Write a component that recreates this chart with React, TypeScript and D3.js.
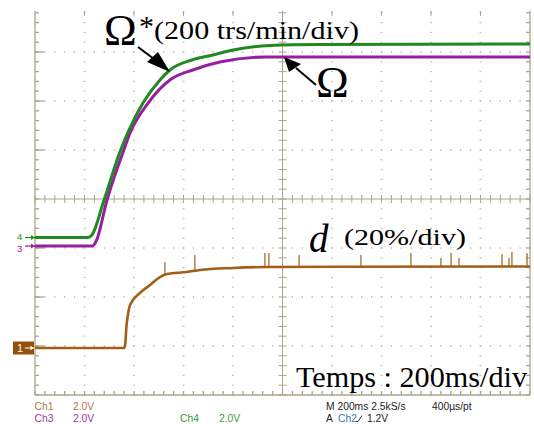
import React, { useEffect } from "react";
import * as d3 from "d3";

// ---- data (time in ms, 200 ms/div; values in screen divisions) ----
const greenT = [0, 214, 230, 279, 343, 376, 436, 505, 545, 634, 719, 800, 949, 1152, 2000];
const greenV = [-0.786, -0.786, -0.735, -0.02, 0.959, 1.367, 1.959, 2.429, 2.633, 2.837, 2.939, 3.041, 3.133, 3.153, 3.163];

const purpleT = [0, 232, 248, 291, 323, 356, 384, 457, 545, 638, 747, 937, 2000];
const purpleV = [-0.96, -0.96, -0.85, -0.02, 0.49, 0.959, 1.347, 1.959, 2.429, 2.633, 2.796, 2.898, 2.898];

const brownT = [0, 360, 364, 370, 376, 384, 424, 465, 505, 533, 614, 667, 800, 937, 2000];
const brownV = [-3.041, -3.041, -2.98, -2.571, -2.347, -2.163, -1.918, -1.755, -1.592, -1.531, -1.49, -1.449, -1.408, -1.388, -1.378];

const brownSpikeT = [525, 646, 929, 945, 1067, 1317, 1519, 1640, 1681, 1713, 1887, 1915, 1927, 1988];
const brownSpikeV = [-1.286, -1.143, -1.102, -1.102, -1.143, -1.143, -1.102, -1.204, -1.102, -1.204, -1.122, -1.204, -1.082, -1.102];

const markerLevels = { ch4: -0.786, ch3: -0.96, ch1: -3.041 };

const statusRow1 = [
  { text: "Ch1", x: 34.5, color: "#a87c4c" },
  { text: "2.0V", x: 73, color: "#a87c4c" },
  { text: "M 200ms 2.5kS/s", x: 326, color: "#222" },
  { text: "400µs/pt", x: 432, color: "#222" },
];
const statusRow2 = [
  { text: "Ch3", x: 34.5, color: "#9a3aa6" },
  { text: "2.0V", x: 73, color: "#9a3aa6" },
  { text: "Ch4", x: 180, color: "#3a9a3a" },
  { text: "2.0V", x: 219, color: "#3a9a3a" },
  { text: "A", x: 326, color: "#222" },
  { text: "Ch2", x: 338, color: "#3a78b8" },
  { text: "1.2V", x: 367, color: "#222" },
];

const GREEN = "#1f8a1f";
const PURPLE = "#951f9e";
const BROWN = "#a15f17";
const GRID = "#aaa58c";
const DOT = "#c9c5b2";

export default function App() {
  useEffect(() => {
    document.body.style.margin = "0";
  }, []);

  const x = d3.scaleLinear().domain([0, 2000]).range([35, 530]);
  const y = d3.scaleLinear().domain([-4, 4]).range([395, 3]);
  const topV = 3.84;
  const topY = y(topV);

  const line = (T: number[], V: number[]) =>
    d3
      .line<number>()
      .x((_, i) => x(T[i]))
      .y((_, i) => y(V[i]))
      .curve(d3.curveMonotoneX)(T.map((t) => t)) || "";

  const minorT = d3.range(0, 2000.1, 40);
  const minorV = d3.range(-4, topV, 0.2);
  const majorT = d3.range(200, 1900, 200).filter((t) => t !== 1000);
  const majorV = d3.range(-3, 3.1, 1).filter((v) => v !== 0);

  const brownAt = d3.scaleLinear().domain(brownT).range(brownV);

  const serif = "'Liberation Serif', 'Times New Roman', serif";
  const sans = "'Liberation Sans', Arial, sans-serif";

  return (
    <svg width={534} height={424} style={{ display: "block", background: "#fff" }}>
      <rect width={534} height={424} fill="#fff" />
      {/* dotted grid */}
      <g fill={DOT}>
        {majorT.map((t) =>
          minorV.map((v) => (
            <rect key={`vd${t}_${v}`} x={x(t) - 1} y={y(v) - 0.6} width={2} height={1.2} />
          ))
        )}
        {majorV.map((v) =>
          minorT.map((t) => (
            <rect key={`hd${t}_${v}`} x={x(t) - 0.6} y={y(v) - 1} width={1.2} height={2} />
          ))
        )}
      </g>
      {/* borders and centre cross */}
      <g stroke={GRID} strokeWidth={1.3} fill="none">
        <line x1={x(0)} y1={topY} x2={x(0)} y2={y(-4)} />
        <line x1={x(2000)} y1={topY} x2={x(2000)} y2={y(-4)} />
        <line x1={x(0)} y1={y(-4)} x2={x(2000)} y2={y(-4)} />
        <line x1={x(0)} y1={y(0)} x2={x(2000)} y2={y(0)} strokeWidth={1} />
        <line x1={x(1000)} y1={topY} x2={x(1000)} y2={y(-4)} strokeWidth={1} />
        {minorV.map((v) => (
          <g key={`tv${v}`}>
            <line x1={x(0)} y1={y(v)} x2={x(0) + 4} y2={y(v)} />
            <line x1={x(2000) - 4} y1={y(v)} x2={x(2000)} y2={y(v)} />
            <line x1={x(1000) - 4} y1={y(v)} x2={x(1000) + 4} y2={y(v)} strokeWidth={1} />
          </g>
        ))}
        {majorV.map((v) => (
          <line key={`mv${v}`} x1={x(0)} y1={y(v)} x2={x(0) + 9} y2={y(v)} />
        ))}
        {majorT.map((t) => (
          <line key={`mt${t}`} x1={x(t)} y1={topY} x2={x(t)} y2={topY + 5} strokeWidth={1} />
        ))}
        {minorT.map((t) => (
          <g key={`tt${t}`}>
            <line x1={x(t)} y1={y(-4)} x2={x(t)} y2={y(-4) - 4} />
            <line x1={x(t)} y1={y(0) - 4} x2={x(t)} y2={y(0) + 4} strokeWidth={1} />
          </g>
        ))}
      </g>

      {/* traces */}
      <path d={line(purpleT, purpleV)} stroke={PURPLE} strokeWidth={3} fill="none" />
      <path d={line(greenT, greenV)} stroke={GREEN} strokeWidth={3} fill="none" />
      <path d={line(brownT, brownV)} stroke={BROWN} strokeWidth={2.6} fill="none" />
      <g stroke={BROWN} strokeWidth={1.2}>
        {brownSpikeT.map((t, i) => (
          <line key={`sp${i}`} x1={x(t)} x2={x(t)} y1={y(brownAt(t))} y2={y(brownSpikeV[i])} />
        ))}
      </g>

      {/* channel markers */}
      <g fontFamily={sans} fontSize={9.5}>
        <text x={17} y={y(markerLevels.ch4) + 2} fill={GREEN}>4</text>
        <line x1={25} x2={35} y1={y(markerLevels.ch4)} y2={y(markerLevels.ch4)} stroke={GREEN} strokeWidth={1.2} />
        <path d={`M35,${y(markerLevels.ch4)} l-4,-2.5 v5 z`} fill={GREEN} />
        <text x={17} y={y(markerLevels.ch3) + 5.5} fill={PURPLE}>3</text>
        <line x1={25} x2={35} y1={y(markerLevels.ch3)} y2={y(markerLevels.ch3)} stroke={PURPLE} strokeWidth={1.2} />
        <path d={`M35,${y(markerLevels.ch3)} l-4,-2.5 v5 z`} fill={PURPLE} />
        <rect x={13} y={y(markerLevels.ch1) - 6.5} width={21} height={13} fill="#94500c" />
        <text x={17} y={y(markerLevels.ch1) + 4} fill="#fff" fontSize={11}>1</text>
        <line x1={25} x2={34} y1={y(markerLevels.ch1)} y2={y(markerLevels.ch1)} stroke="#fff" strokeWidth={1} />
        <path d={`M34,${y(markerLevels.ch1)} l-3.5,-2.2 v4.4 z`} fill="#fff" />
      </g>

      {/* annotations */}
      <g fontFamily={serif} fill="#000">
        <text x={104} y={45} fontSize={44}>Ω</text>
        <text x={139} y={36} fontSize={30}>*</text>
        <text x={154} y={38.5} fontSize={25} textLength={205} lengthAdjust="spacingAndGlyphs">(200 trs/min/div)</text>
        <line x1={138} y1={47} x2={154} y2={59} stroke="#000" strokeWidth={2} />
        <path d="M170,72 L147,62 L158,52 Z" fill="#000" />
        <text x={316} y={97} fontSize={44}>Ω</text>
        <line x1={316} y1={85} x2={296} y2={68} stroke="#000" strokeWidth={2} />
        <path d="M284,57 L289,72 L301,64 Z" fill="#000" />
        <text x={309} y={252} fontSize={39} fontStyle="italic">d</text>
        <text x={344} y={244.5} fontSize={23} textLength={122} lengthAdjust="spacingAndGlyphs">(20%/div)</text>
        <text x={296} y={387} fontSize={29} textLength={231} lengthAdjust="spacingAndGlyphs">Temps : 200ms/div</text>
      </g>

      {/* status bar */}
      <g fontFamily={sans} fontSize={10.3}>
        {statusRow1.map((s) => (
          <text key={`r1${s.x}`} x={s.x} y={410} fill={s.color}>{s.text}</text>
        ))}
        {statusRow2.map((s) => (
          <text key={`r2${s.x}`} x={s.x} y={421.7} fill={s.color}>{s.text}</text>
        ))}
        <path d="M356,421.5 h2 l4,-6" stroke="#222" strokeWidth={0.9} fill="none" />
      </g>
    </svg>
  );
}
